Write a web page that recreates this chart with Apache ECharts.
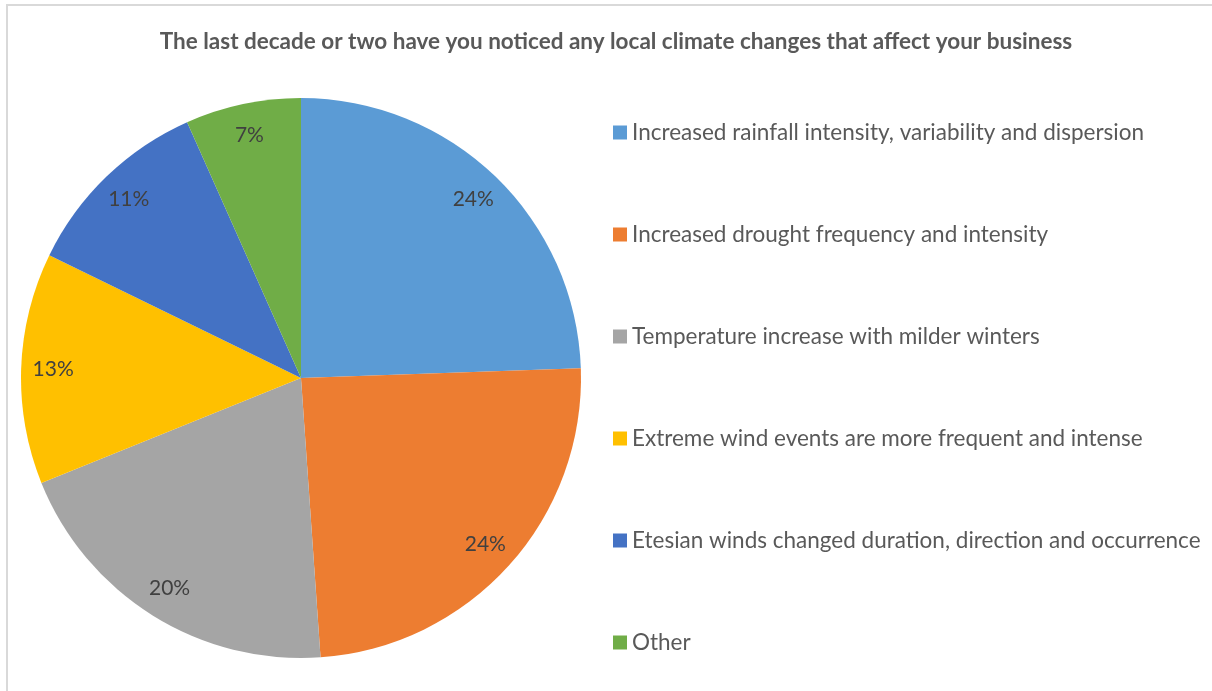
<!DOCTYPE html>
<html>
<head>
<meta charset="utf-8">
<script src="https://cdn.jsdelivr.net/npm/echarts@6/dist/echarts.min.js"></script>
<style>
html,body{margin:0;padding:0;background:#fff;}
#chart{width:1212px;height:691px;}
</style>
</head>
<body>
<div id="chart"></div>
<script>
const titleText = 'The last decade or two have you noticed any local climate changes that affect your business';
const categories = [
  'Increased rainfall intensity, variability and dispersion',
  'Increased drought frequency and intensity',
  'Temperature increase with milder winters',
  'Extreme wind events are more frequent and intense',
  'Etesian winds changed duration, direction and occurrence',
  'Other'
];
const counts = [11, 11, 9, 6, 5, 3];
const colors = ['#5B9BD5', '#ED7D31', '#A5A5A5', '#FFC000', '#4472C4', '#70AD47'];

const data = categories.map((c, i) => ({ name: c, value: counts[i] }));
const font = 'Lato, "Open Sans", sans-serif';

const chart = echarts.init(document.getElementById('chart'), null, { renderer: 'canvas' });
chart.setOption({
  animation: false,
  color: colors,
  graphic: [{
    type: 'rect',
    shape: { x: 7, y: 5, width: 1300, height: 800 },
    style: { fill: 'none', stroke: '#d9d9d9', lineWidth: 2 },
    silent: true
  }],
  title: {
    text: titleText,
    left: 611,
    textAlign: 'center',
    top: 25,
    textStyle: { fontFamily: font, fontSize: 22.5, fontWeight: 'bold', color: '#595959' }
  },
  legend: {
    orient: 'vertical',
    left: 608,
    top: 116,
    icon: 'rect',
    itemWidth: 14,
    itemHeight: 14,
    itemGap: 79,
    textStyle: { fontFamily: font, fontSize: 22.5, color: '#595959' },
    data: categories
  },
  series: [
    {
      type: 'pie',
      center: [301, 378],
      radius: [0, 280],
      startAngle: 90,
      clockwise: true,
      label: { show: false },
      labelLine: { show: false },
      emphasis: { disabled: true },
      data: data
    },
    {
      type: 'pie',
      center: [301, 378],
      radius: [210, 280],
      startAngle: 90,
      clockwise: true,
      silent: true,
      itemStyle: { color: 'rgba(0,0,0,0)' },
      label: {
        show: true,
        position: 'inside',
        formatter: p => Math.round(p.percent) + '%',
        fontFamily: font,
        fontSize: 21,
        color: '#404040'
      },
      labelLine: { show: false },
      emphasis: { disabled: true },
      legendHoverLink: false,
      data: data.map(d => ({ name: d.name + ' ', value: d.value }))
    }
  ]
});
</script>
</body>
</html>
